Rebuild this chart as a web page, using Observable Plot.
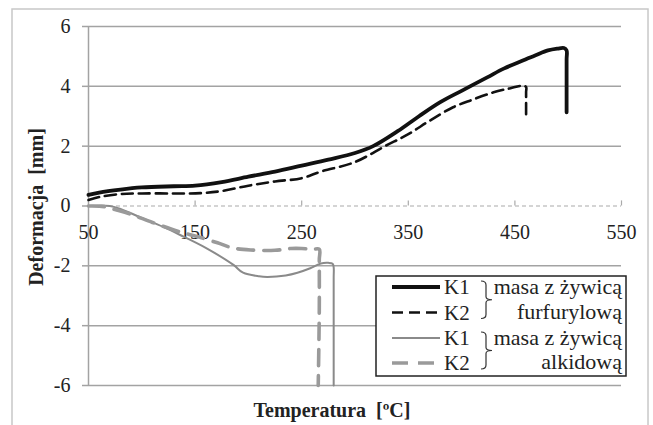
<!DOCTYPE html>
<html>
<head>
<meta charset="utf-8">
<script src="https://cdn.jsdelivr.net/npm/d3@7"></script>
<script src="https://cdn.jsdelivr.net/npm/@observablehq/plot@0.6"></script>
<style>
  html, body { margin: 0; padding: 0; background: #fff; }
  #chart { width: 653px; height: 425px; overflow: hidden; }
  svg { display: block; }
</style>
</head>
<body>
<div id="chart"></div>
<script>
// ---- data (temperature °C, deformation mm) ----
const k1FurT = [50, 60, 80, 100, 130, 150, 175, 200, 225, 250, 275, 300, 317, 340, 360, 380, 400, 424, 440, 458, 470, 481, 490, 496, 498.5, 498.5, 498.5];
const k1FurD = [0.37, 0.45, 0.55, 0.62, 0.66, 0.68, 0.8, 0.98, 1.15, 1.35, 1.55, 1.77, 2.0, 2.5, 3.0, 3.47, 3.85, 4.3, 4.6, 4.87, 5.05, 5.2, 5.26, 5.28, 5.2, 4.9, 3.13];
const k2FurT = [50, 60, 80, 100, 130, 155, 175, 200, 225, 250, 268, 300, 328, 350, 370, 392, 410, 430, 445, 457, 460.5, 460.5, 460.5];
const k2FurD = [0.2, 0.3, 0.4, 0.42, 0.42, 0.43, 0.5, 0.68, 0.82, 0.93, 1.15, 1.47, 2.0, 2.4, 2.85, 3.3, 3.55, 3.8, 3.93, 4.02, 3.98, 3.8, 3.0];
const k1AlkT = [50, 70, 80, 100, 120, 136, 160, 186, 195, 210, 218, 235, 246, 258, 268, 275, 279, 280, 280, 280];
const k1AlkD = [0, 0, -0.1, -0.4, -0.7, -0.97, -1.4, -1.97, -2.23, -2.35, -2.37, -2.32, -2.23, -2.08, -1.92, -1.9, -1.93, -2.05, -2.4, -6];
const k2AlkT = [50, 65, 75, 90, 110, 136, 150, 171, 185, 202, 225, 240, 250, 260, 266.5, 266.5, 266.5, 265.5];
const k2AlkD = [0, -0.02, -0.12, -0.28, -0.55, -0.87, -1.0, -1.23, -1.4, -1.47, -1.48, -1.42, -1.42, -1.45, -1.45, -1.8, -3.5, -6];
const xTicks = [50, 150, 250, 350, 450, 550];
const yTicks = [-6, -4, -2, 0, 2, 4, 6];
const yGrid = [-6, -4, -2, 2, 4, 6];
const xLabel = "Temperatura  [ºC]";
const yLabel = "Deformacja  [mm]";
const legendItems = ["K1", "K2", "K1", "K2"];
const legendGroups = [["masa z żywicą", "furfurylową"], ["masa z żywicą", "alkidową"]];

const toRows = (T, D) => T.map((t, i) => ({t, d: D[i]}));
const k1Fur = toRows(k1FurT, k1FurD);
const k2Fur = toRows(k2FurT, k2FurD);
const k1Alk = toRows(k1AlkT, k1AlkD);
const k2Alk = toRows(k2AlkT, k2AlkD);

const serif = "Liberation Serif, Times New Roman, serif";
const styles = [
  {stroke: "#111", strokeWidth: 3.8, strokeDasharray: null},
  {stroke: "#111", strokeWidth: 2.6, strokeDasharray: "11,6"},
  {stroke: "#8a8a8a", strokeWidth: 2, strokeDasharray: null},
  {stroke: "#9a9a9a", strokeWidth: 3.6, strokeDasharray: "16,10"}
];

const chart = Plot.plot({
  width: 653,
  height: 425,
  marginLeft: 88,
  marginRight: 32,
  marginTop: 26,
  marginBottom: 40,
  style: {fontFamily: serif, background: "#fff"},
  x: {type: "linear", domain: [50, 550], axis: null},
  y: {type: "linear", domain: [-6, 6], axis: null},
  marks: [
    Plot.ruleY(yGrid, {stroke: "#a3a3a3", strokeWidth: 1.5}),
    Plot.ruleY([0], {stroke: "#aaa", strokeWidth: 1.2, strokeDasharray: "4,3"}),
    Plot.ruleX(xTicks.slice(1), {y1: 0, y2: 0.17, stroke: "#aaa", strokeWidth: 1.2}),
    Plot.ruleX([50], {y1: -6, y2: 6, stroke: "#a3a3a3", strokeWidth: 1.5}),
    Plot.axisY(yTicks, {tickSize: 6, tickPadding: 12, stroke: "#a3a3a3", strokeWidth: 1.5, fill: "#222", fontSize: 20, label: null, tickFormat: d => String(d)}),
    Plot.text(xTicks, {x: d => d, y: 0, dy: 27, text: d => String(d), fontSize: 20, fill: "#222"}),
    Plot.line(k1Alk, {x: "t", y: "d", curve: "catmull-rom", ...styles[2]}),
    Plot.line(k2Alk, {x: "t", y: "d", curve: "catmull-rom", ...styles[3]}),
    Plot.line(k2Fur, {x: "t", y: "d", curve: "catmull-rom", ...styles[1]}),
    Plot.line(k1Fur, {x: "t", y: "d", curve: "catmull-rom", ...styles[0]})
  ]
});

const svg = d3.select(chart);
// outer border
svg.insert("rect", ":first-child")
  .attr("x", 12).attr("y", 9).attr("width", 636).attr("height", 440)
  .attr("fill", "#fff").attr("stroke", "#c8c8c8").attr("stroke-width", 1.5);

// axis titles
svg.append("text")
  .attr("transform", "translate(36,207) rotate(-90)")
  .attr("text-anchor", "middle").attr("dominant-baseline", "central")
  .style("font-family", serif).attr("font-weight", "bold").attr("font-size", 20).attr("fill", "#222")
  .style("white-space", "pre").text(yLabel);
svg.append("text")
  .attr("x", 332).attr("y", 410)
  .attr("text-anchor", "middle").attr("dominant-baseline", "central")
  .style("font-family", serif).attr("font-weight", "bold").attr("font-size", 20).attr("fill", "#222")
  .style("white-space", "pre").text(xLabel);

// legend
const lg = svg.append("g").style("font-family", serif);
lg.append("rect").attr("x", 376).attr("y", 276).attr("width", 250).attr("height", 100)
  .attr("fill", "#fff").attr("stroke", "#222").attr("stroke-width", 1.5);
const rowY = [287, 312.5, 338, 363];
legendItems.forEach((lab, i) => {
  const s = styles[i];
  lg.append("line").attr("x1", 392).attr("x2", 440).attr("y1", rowY[i]).attr("y2", rowY[i])
    .attr("stroke", s.stroke).attr("stroke-width", s.strokeWidth)
    .attr("stroke-dasharray", s.strokeDasharray);
  lg.append("text").attr("x", 444).attr("y", rowY[i] + 7).attr("text-anchor", "start")
    .style("font-family", serif).attr("font-size", 21).attr("fill", "#222").text(lab);
});
legendGroups.forEach((g, j) => {
  const y0 = rowY[2 * j] - 6, y1 = rowY[2 * j + 1] + 6, ym = (y0 + y1) / 2;
  const x0 = 481, x1 = 486, x2 = 492;
  lg.append("path")
    .attr("d", `M${x0},${y0} Q${x1},${y0} ${x1},${y0 + 4} L${x1},${ym - 3} Q${x1},${ym} ${x2},${ym} Q${x1},${ym} ${x1},${ym + 3} L${x1},${y1 - 4} Q${x1},${y1} ${x0},${y1}`)
    .attr("fill", "none").attr("stroke", "#333").attr("stroke-width", 1.2);
  lg.append("text").attr("x", 622).attr("y", rowY[2 * j] + 7).attr("text-anchor", "end")
    .style("font-family", serif).attr("font-size", 22).attr("fill", "#222").text(g[0]);
  lg.append("text").attr("x", 622).attr("y", rowY[2 * j + 1] + 6).attr("text-anchor", "end")
    .style("font-family", serif).attr("font-size", 22).attr("fill", "#222").text(g[1]);
});

document.getElementById("chart").appendChild(chart);
</script>
</body>
</html>
